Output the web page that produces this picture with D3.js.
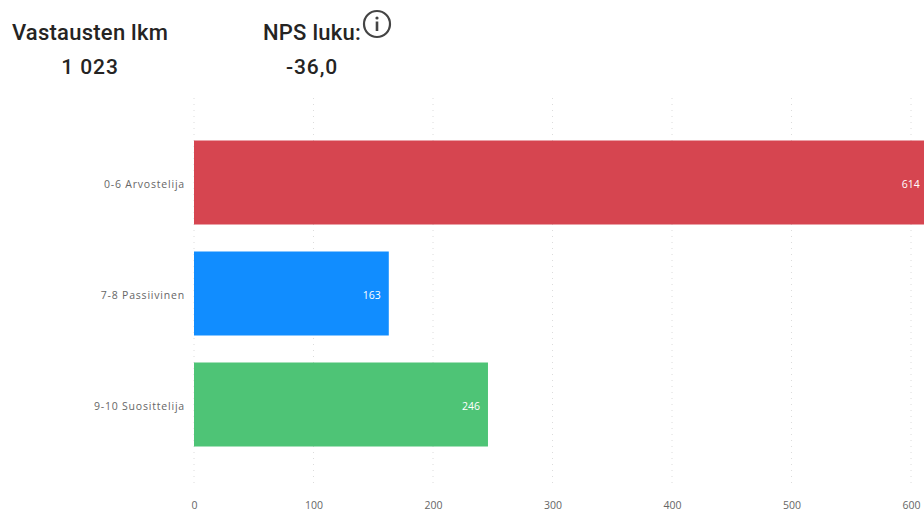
<!DOCTYPE html>
<html>
<head>
<meta charset="utf-8">
<script src="https://cdn.jsdelivr.net/npm/d3@7"></script>
<style>
  html, body { margin: 0; padding: 0; background: #fff; overflow: hidden; }
  svg { display: block; }
  .head { font-family: Roboto, sans-serif; font-weight: 500; fill: #252423; text-anchor: middle; }
  .tick text, .cat { font-family: "Open Sans", "Noto Sans", sans-serif; }
</style>
</head>
<body>
<div id="chart"></div>
<script>
const categories = ["0-6 Arvostelija", "7-8 Passiivinen", "9-10 Suosittelija"];
const values = [614, 163, 246];
const colors = ["#D64550", "#118DFF", "#4EC476"];
const xTicks = [0, 100, 200, 300, 400, 500, 600];
const headers = ["Vastausten lkm", "NPS luku:"];
const headerValues = ["1 023", "-36,0"];

const width = 924,
  height = 515;

const svg = d3.select("#chart").append("svg")
  .attr("width", width)
  .attr("height", height);

// bars run off the right edge, same as the source
const x = d3.scaleLinear().domain([0, 600]).range([194, 911]);
const y = d3.scaleBand().domain(categories)
  .range([85.5, 501.5]).paddingInner(27 / 111).paddingOuter(55 / 111);

const grid = svg.append("g");
grid.selectAll("line")
  .data(xTicks)
  .join("line")
  .attr("x1", d => x(d)).attr("x2", d => x(d))
  .attr("y1", 98).attr("y2", 487)
  .attr("stroke", "#dcdcdc")
  .attr("stroke-width", 1)
  .attr("stroke-dasharray", "1 5");

const xAxis = d3.axisBottom(x).tickValues(xTicks).tickSize(0).tickPadding(0);
const gx = svg.append("g").attr("transform", "translate(0,503)").call(xAxis);
gx.select(".domain").remove();
gx.selectAll("text").attr("font-size", 10.5).attr("fill", "#666").attr("dy", "0.55em");

svg.append("g").selectAll("rect")
  .data(values)
  .join("rect")
  .attr("x", x(0))
  .attr("y", (d, i) => y(categories[i]))
  .attr("width", d => x(d) - x(0))
  .attr("height", y.bandwidth())
  .attr("fill", (d, i) => colors[i]);

const yAxis = d3.axisLeft(y).tickSize(0).tickPadding(9);
const gy = svg.append("g").attr("transform", `translate(${x(0)},2)`).call(yAxis);
gy.select(".domain").remove();
gy.selectAll("text").attr("font-size", 10.5).attr("letter-spacing", 0.8).attr("fill", "#666");

svg.append("g").selectAll("text")
  .data(values)
  .join("text")
  .attr("x", d => x(d) - 8)
  .attr("y", (d, i) => y(categories[i]) + y.bandwidth() / 2 + 2)
  .attr("dy", "0.35em")
  .attr("text-anchor", "end")
  .attr("font-family", "'Open Sans', sans-serif")
  .attr("font-size", 10.5)
  .attr("fill", "#fff")
  .text(d => d);

const headX = [90, 312];
svg.append("g").selectAll("text")
  .data(headers)
  .join("text")
  .attr("class", "head")
  .attr("x", (d, i) => headX[i])
  .attr("y", 40)
  .attr("font-size", 22)
  .attr("letter-spacing", 0.25)
  .text(d => d);

svg.append("g").selectAll("text")
  .data(headerValues)
  .join("text")
  .attr("class", "head")
  .attr("x", (d, i) => headX[i])
  .attr("y", 74)
  .attr("font-size", 21)
  .attr("letter-spacing", 0.9)
  .text(d => d);

// info icon
const info = svg.append("g").attr("transform", "translate(377,24)");
info.append("circle").attr("r", 13).attr("fill", "none").attr("stroke", "#444").attr("stroke-width", 2.2);
info.append("circle").attr("cy", -6).attr("r", 1.6).attr("fill", "#444");
info.append("rect").attr("x", -1.3).attr("y", -2.5).attr("width", 2.6).attr("height", 9.5).attr("fill", "#444");
</script>
</body>
</html>
